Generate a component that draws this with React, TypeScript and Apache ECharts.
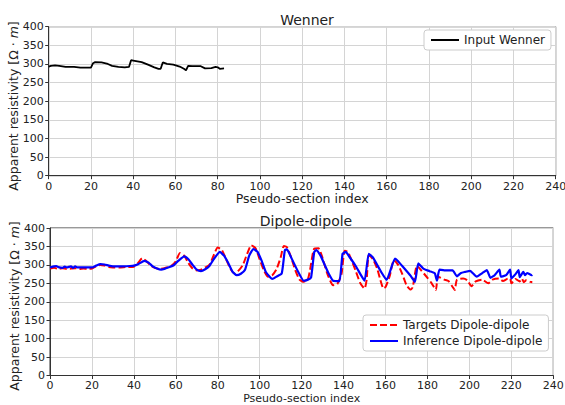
import React, { useEffect, useRef } from "react";
import * as echarts from "echarts";

const X_TICKS_MAX = 240;
const Y_TICKS_MAX = 400;

const wennerX = [0, 1, 3, 5, 8, 10, 12, 15, 18, 20, 21, 22, 25, 28, 30, 33, 36, 38, 39, 40, 42, 44, 47, 50, 52, 53, 54, 56, 59, 62, 64, 65, 66, 68, 70, 72, 74, 77, 79, 80, 81, 83];
const wennerY = [293, 295, 296, 295, 292, 292, 292, 290, 290, 290, 302, 305, 304, 300, 295, 292, 291, 292, 310, 309, 307, 305, 298, 291, 287, 287, 304, 300, 298, 293, 287, 283, 295, 294, 294, 294, 288, 289, 292, 291, 287, 288];

const targetX = [0, 2, 4, 6, 8, 10, 12, 14, 16, 18, 20, 22, 24, 26, 28, 30, 33, 36, 40, 42, 44, 46, 48, 50, 52, 54, 56, 58, 60, 62, 64, 66, 68, 70, 72, 74, 76, 78, 80, 82, 84, 86, 88, 90, 92, 94, 96, 98, 100, 102, 104, 106, 108, 110, 111.5, 113, 115, 117, 119, 121, 123, 124, 126, 128, 130, 132, 135, 137, 139, 140.5, 142, 144, 146, 148, 150, 151, 152, 154, 156, 158, 159, 160, 162, 164, 166, 168, 170, 172, 173, 175, 177, 180, 182, 184, 185, 188, 190, 192, 193, 194, 197, 199, 201, 203, 206, 209, 211, 214, 216, 218.5, 219.5, 220, 222, 224, 225, 226, 227, 229, 230];
const targetY = [290, 292, 289, 291, 289, 290, 291, 289, 290, 289, 290, 296, 300, 298, 294, 293, 293, 294, 295, 305, 318, 310, 298, 292, 289, 290, 294, 298, 310, 332, 325, 305, 290, 285, 287, 293, 300, 325, 347, 340, 315, 290, 277, 285, 300, 330, 353, 345, 315, 285, 268, 272, 288, 320, 351, 348, 320, 285, 260, 254, 262, 286, 344, 345, 318, 280, 245, 248, 275, 338, 335, 310, 280, 250, 236, 260, 326, 315, 290, 250, 236, 240, 270, 313, 300, 275, 245, 233, 240, 298, 285, 265, 250, 232, 268, 260, 256, 240, 232, 259, 263, 258, 242, 255, 260, 250, 260, 263, 256, 263, 262, 250, 262, 255, 263, 253, 258, 254, 253];

const inferX = [0, 2, 3, 4, 6, 7, 8, 10, 11, 12, 13, 15, 18, 20, 22, 24, 26, 28, 30, 34, 38, 40, 42, 45, 47, 49, 51, 53, 55, 57, 59, 61, 64, 66, 68, 70, 72, 74, 76, 78, 81, 83, 85, 87, 89, 91, 93, 95, 97, 99, 101, 103, 106, 108, 110.5, 112, 113, 115, 118, 121, 123, 124.5, 126, 127, 129, 131, 133, 135, 138, 139.5, 141, 143, 146, 148, 150, 152, 154, 156, 158, 160.5, 164.5, 166, 169, 172, 174, 175.6, 178, 181, 183.5, 184.5, 185.7, 188, 192, 194, 196, 198, 200.3, 203.5, 206, 208.3, 210, 212, 214.3, 215, 217.5, 219.4, 220, 222, 223.4, 224, 225.7, 226.5, 227.5, 229.7, 230];
const inferY = [293, 296, 297, 294, 292, 295, 293, 296, 292, 296, 293, 293, 293, 293, 298, 302, 301, 298, 296, 296, 297, 298, 302, 311, 306, 296, 290, 287, 290, 294, 299, 310, 323, 315, 300, 287, 283, 288, 297, 315, 335, 325, 305, 282, 272, 276, 287, 325, 343, 335, 310, 280, 262, 268, 277, 340, 342, 320, 285, 257, 260, 266, 335, 340, 325, 300, 275, 257, 256, 330, 335, 320, 295, 275, 257, 330, 320, 300, 280, 259, 317, 310, 290, 270, 254, 304, 290, 283, 277, 257, 287, 285, 285, 269, 278, 281, 284, 268, 277, 286, 265, 272, 287, 268, 272, 287, 263, 275, 286, 267, 281, 272, 278, 272, 273];

const Y_LABEL = "Apparent resistivity [Ω · {i|m}]";

const pairs = (xs: number[], ys: number[]) => xs.map((x, i) => [x, ys[i]]);

const FONT = "DejaVu Sans";
const TXT = "#222";

function makeX(gridIndex: number, gap: number, size: number, margin: number) {
  return {
    type: "value",
    gridIndex,
    min: 0,
    max: X_TICKS_MAX,
    interval: 20,
    name: "Pseudo-section index",
    nameLocation: "middle",
    nameGap: gap,
    nameMoveOverlap: false,
    nameTextStyle: { fontFamily: FONT, fontSize: size, color: TXT, verticalAlign: "middle" },
    axisLine: { show: true, lineStyle: { color: "#333", width: 1 } },
    axisTick: { show: true, length: 3.5, lineStyle: { color: "#333" } },
    axisLabel: { fontFamily: FONT, fontSize: 11, color: TXT, margin },
    splitLine: { show: true, lineStyle: { color: "#d4d4d4", width: 1 } },
  };
}

function makeY(gridIndex: number) {
  return {
    type: "value",
    gridIndex,
    min: 0,
    max: Y_TICKS_MAX,
    interval: 50,
    axisLine: { show: true, lineStyle: { color: "#333", width: 1 } },
    axisTick: { show: true, length: 3.5, lineStyle: { color: "#333" } },
    axisLabel: { fontFamily: FONT, fontSize: 11, color: TXT, margin: 5 },
    splitLine: { show: true, lineStyle: { color: "#d4d4d4", width: 1 } },
  };
}

function yName(x: number, y: number) {
  return {
    type: "text",
    x,
    y,
    rotation: Math.PI / 2,
    style: {
      text: Y_LABEL,
      fontFamily: FONT,
      fontSize: 12.5,
      fill: TXT,
      align: "center",
      verticalAlign: "middle",
      rich: { i: { fontFamily: FONT, fontSize: 12.5, fontStyle: "italic", fill: TXT } },
    },
  };
}

export default function App() {
  const ref = useRef<HTMLDivElement>(null);
  useEffect(() => {
    if (!ref.current) return;
    const chart = echarts.init(ref.current, null, { renderer: "svg" });
    chart.setOption({
      animation: false,
      backgroundColor: "#fff",
      title: [
        { text: "Wenner", left: 302, top: 8, textAlign: "center", textStyle: { fontFamily: FONT, fontSize: 14, fontWeight: "normal", color: TXT } },
        { text: "Dipole-dipole", left: 301, top: 209, textAlign: "center", textStyle: { fontFamily: FONT, fontSize: 14, fontWeight: "normal", color: TXT } },
      ],
      grid: [
        { left: 48.7, right: 9.3, top: 26.7, height: 149, show: true, borderColor: "#333", borderWidth: 1, backgroundColor: "transparent", outerBoundsMode: "none", containLabel: false },
        { left: 50, right: 11.7, top: 228, height: 147.5, show: true, borderColor: "#333", borderWidth: 1, backgroundColor: "transparent", outerBoundsMode: "none", containLabel: false },
      ],
      xAxis: [makeX(0, 22.5, 12.5, 5), makeX(1, 23, 11, 4)],
      yAxis: [makeY(0), makeY(1)],
      graphic: [yName(13, 106), yName(14.5, 306)],
      legend: [
        {
          data: ["Input Wenner"],
          left: 424,
          top: 30,
          itemWidth: 28,
          itemHeight: 12,
          padding: [4, 6, 4, 6],
          backgroundColor: "#fff",
          borderColor: "#ccc",
          borderWidth: 1,
          borderRadius: 3,
          itemStyle: { opacity: 0 },
          textStyle: { fontFamily: FONT, fontSize: 12, color: TXT },
        },
        {
          data: ["Targets Dipole-dipole", "Inference Dipole-dipole"],
          left: 363,
          top: 315,
          orient: "vertical",
          itemGap: 4,
          itemWidth: 28,
          itemHeight: 12,
          padding: [4, 6, 4, 6],
          backgroundColor: "#fff",
          borderColor: "#ccc",
          borderWidth: 1,
          borderRadius: 3,
          itemStyle: { opacity: 0 },
          textStyle: { fontFamily: FONT, fontSize: 12, color: TXT },
        },
      ],
      series: [
        {
          name: "Input Wenner",
          type: "line",
          xAxisIndex: 0,
          yAxisIndex: 0,
          data: pairs(wennerX, wennerY),
          showSymbol: false,
          symbol: "none",
          lineStyle: { color: "#000", width: 1.8 },
          itemStyle: { color: "#000" },
        },
        {
          name: "Targets Dipole-dipole",
          type: "line",
          xAxisIndex: 1,
          yAxisIndex: 1,
          data: pairs(targetX, targetY),
          showSymbol: false,
          symbol: "none",
          smooth: 0.2,
          lineStyle: { color: "#ff0000", width: 2, type: [7, 3] },
          itemStyle: { color: "#ff0000" },
        },
        {
          name: "Inference Dipole-dipole",
          type: "line",
          xAxisIndex: 1,
          yAxisIndex: 1,
          data: pairs(inferX, inferY),
          showSymbol: false,
          symbol: "none",
          smooth: 0.15,
          lineStyle: { color: "#0000ff", width: 2.2 },
          itemStyle: { color: "#0000ff" },
        },
      ],
    });
    return () => chart.dispose();
  }, []);
  return <div ref={ref} style={{ width: 565, height: 405, position: "absolute", left: 0, top: 0 }} />;
}
